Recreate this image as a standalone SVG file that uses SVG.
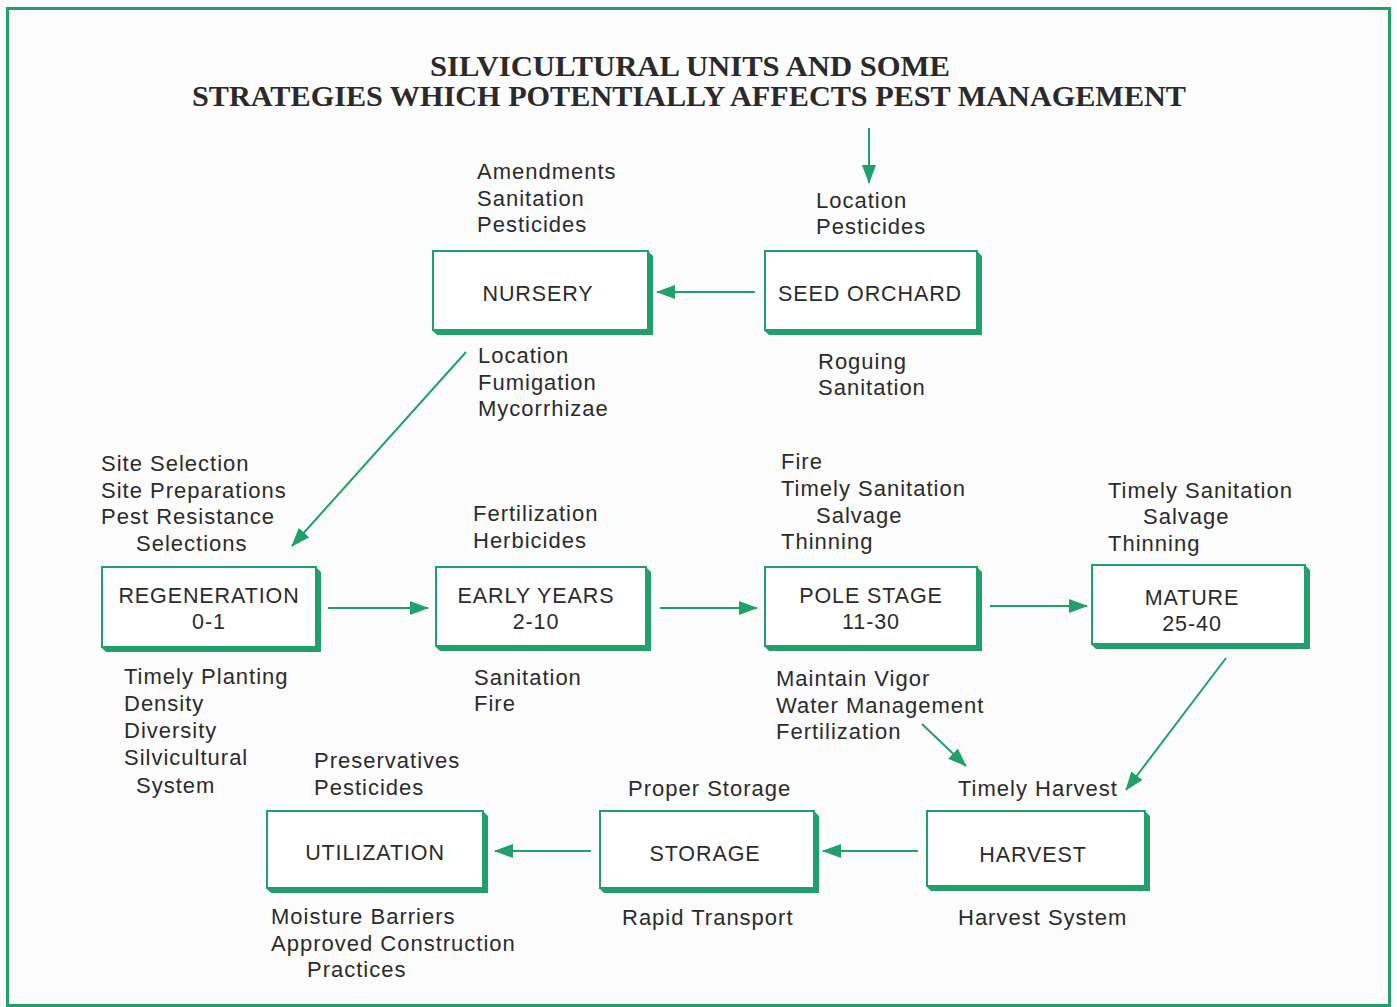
<svg xmlns="http://www.w3.org/2000/svg" width="1397" height="1007" viewBox="0 0 1397 1007">
<defs>
<marker id="ah" markerUnits="userSpaceOnUse" markerWidth="20" markerHeight="14" refX="18" refY="7" orient="auto">
<path d="M0,0 L19,7 L0,14 Z" fill="#22a06b"/>
</marker>
</defs>
<style>
.t{font-family:"Liberation Sans",Arial,sans-serif;font-size:22px;letter-spacing:1px;fill:#2b2b2b}
.b{font-family:"Liberation Sans",Arial,sans-serif;font-size:21.5px;letter-spacing:0.9px;fill:#2b2b2b;text-anchor:middle}
.title{font-family:"Liberation Serif","Times New Roman",serif;font-weight:bold;font-size:30px;fill:#2a2a2a;text-anchor:middle}
.box{fill:#fff;stroke:#22a06b;stroke-width:2}
.sh{fill:#22a06b}
.c{stroke:#22a06b;stroke-width:2;fill:none;marker-end:url(#ah)}
</style>
<rect x="0" y="0" width="1397" height="1007" fill="#fcfcfc"/>
<rect x="7.5" y="8.5" width="1382" height="997" fill="none" stroke="#22a06b" stroke-width="3"/>
<text class="title" x="690" y="76" textLength="520" lengthAdjust="spacingAndGlyphs">SILVICULTURAL UNITS AND SOME</text>
<text class="title" x="689" y="106" textLength="994" lengthAdjust="spacingAndGlyphs">STRATEGIES WHICH POTENTIALLY AFFECTS PEST MANAGEMENT</text>

<g id="connectors">
<line class="c" x1="869" y1="128" x2="869" y2="183"/>
<line class="c" x1="755" y1="292" x2="657" y2="292"/>
<line class="c" x1="466" y1="352" x2="292" y2="546"/>
<line class="c" x1="328" y1="608" x2="428" y2="608"/>
<line class="c" x1="660" y1="608" x2="757" y2="608"/>
<line class="c" x1="990" y1="606" x2="1087" y2="606"/>
<line class="c" x1="1226" y1="658" x2="1126" y2="790"/>
<line class="c" x1="922" y1="724" x2="966" y2="766"/>
<line class="c" x1="918" y1="851" x2="823" y2="851"/>
<line class="c" x1="591" y1="851" x2="495" y2="851"/>
</g>

<g id="nursery">
<path class="sh" d="M648,251 L653,256 L653,335 L437,335 L432,330 L648,330 Z"/>
<rect class="box" x="433" y="251" width="215" height="79"/>
<text class="b" x="538" y="301">NURSERY</text>
</g>
<g id="seed-orchard">
<path class="sh" d="M977,251 L982,256 L982,335 L769,335 L764,330 L977,330 Z"/>
<rect class="box" x="765" y="251" width="212" height="79"/>
<text class="b" x="870" y="301">SEED ORCHARD</text>
</g>
<g id="regeneration">
<path class="sh" d="M316,567 L321,572 L321,652 L106,652 L101,647 L316,647 Z"/>
<rect class="box" x="102" y="567" width="214" height="80"/>
<text class="b" x="209" y="603">REGENERATION</text>
<text class="b" x="209" y="629">0-1</text>
</g>
<g id="early-years">
<path class="sh" d="M646,567 L651,572 L651,651 L440,651 L435,646 L646,646 Z"/>
<rect class="box" x="436" y="567" width="210" height="79"/>
<text class="b" x="536" y="603">EARLY YEARS</text>
<text class="b" x="536" y="629">2-10</text>
</g>
<g id="pole-stage">
<path class="sh" d="M977,567 L982,572 L982,651 L769,651 L764,646 L977,646 Z"/>
<rect class="box" x="765" y="567" width="212" height="79"/>
<text class="b" x="871" y="603">POLE STAGE</text>
<text class="b" x="871" y="629">11-30</text>
</g>
<g id="mature">
<path class="sh" d="M1305,565 L1310,570 L1310,649 L1096,649 L1091,644 L1305,644 Z"/>
<rect class="box" x="1092" y="565" width="213" height="79"/>
<text class="b" x="1192" y="605">MATURE</text>
<text class="b" x="1192" y="631">25-40</text>
</g>
<g id="utilization">
<path class="sh" d="M483,811 L488,816 L488,893 L271,893 L266,888 L483,888 Z"/>
<rect class="box" x="267" y="811" width="216" height="77"/>
<text class="b" x="375" y="860">UTILIZATION</text>
</g>
<g id="storage">
<path class="sh" d="M814,811 L819,816 L819,893 L604,893 L599,888 L814,888 Z"/>
<rect class="box" x="600" y="811" width="214" height="77"/>
<text class="b" x="705" y="861">STORAGE</text>
</g>
<g id="harvest">
<path class="sh" d="M1145,811 L1150,816 L1150,891 L931,891 L926,886 L1145,886 Z"/>
<rect class="box" x="927" y="811" width="218" height="75"/>
<text class="b" x="1033" y="862">HARVEST</text>
</g>

<g id="labels">
<text class="t" x="477" y="179">Amendments</text>
<text class="t" x="477" y="206">Sanitation</text>
<text class="t" x="477" y="232">Pesticides</text>
<text class="t" x="816" y="208">Location</text>
<text class="t" x="816" y="234">Pesticides</text>
<text class="t" x="478" y="363">Location</text>
<text class="t" x="478" y="390">Fumigation</text>
<text class="t" x="478" y="416">Mycorrhizae</text>
<text class="t" x="818" y="369">Roguing</text>
<text class="t" x="818" y="395">Sanitation</text>
<text class="t" x="101" y="471">Site Selection</text>
<text class="t" x="101" y="498">Site Preparations</text>
<text class="t" x="101" y="524">Pest Resistance</text>
<text class="t" x="136" y="551">Selections</text>
<text class="t" x="473" y="521">Fertilization</text>
<text class="t" x="473" y="548">Herbicides</text>
<text class="t" x="781" y="469">Fire</text>
<text class="t" x="781" y="496">Timely Sanitation</text>
<text class="t" x="816" y="523">Salvage</text>
<text class="t" x="781" y="549">Thinning</text>
<text class="t" x="1108" y="498">Timely Sanitation</text>
<text class="t" x="1143" y="524">Salvage</text>
<text class="t" x="1108" y="551">Thinning</text>
<text class="t" x="124" y="684">Timely Planting</text>
<text class="t" x="124" y="711">Density</text>
<text class="t" x="124" y="738">Diversity</text>
<text class="t" x="124" y="765">Silvicultural</text>
<text class="t" x="136" y="793">System</text>
<text class="t" x="474" y="685">Sanitation</text>
<text class="t" x="474" y="711">Fire</text>
<text class="t" x="776" y="686">Maintain Vigor</text>
<text class="t" x="776" y="713">Water Management</text>
<text class="t" x="776" y="739">Fertilization</text>
<text class="t" x="314" y="768">Preservatives</text>
<text class="t" x="314" y="795">Pesticides</text>
<text class="t" x="628" y="796">Proper Storage</text>
<text class="t" x="958" y="796">Timely Harvest</text>
<text class="t" x="271" y="924">Moisture Barriers</text>
<text class="t" x="271" y="951">Approved Construction</text>
<text class="t" x="307" y="977">Practices</text>
<text class="t" x="622" y="925">Rapid Transport</text>
<text class="t" x="958" y="925">Harvest System</text>
</g>
</svg>
